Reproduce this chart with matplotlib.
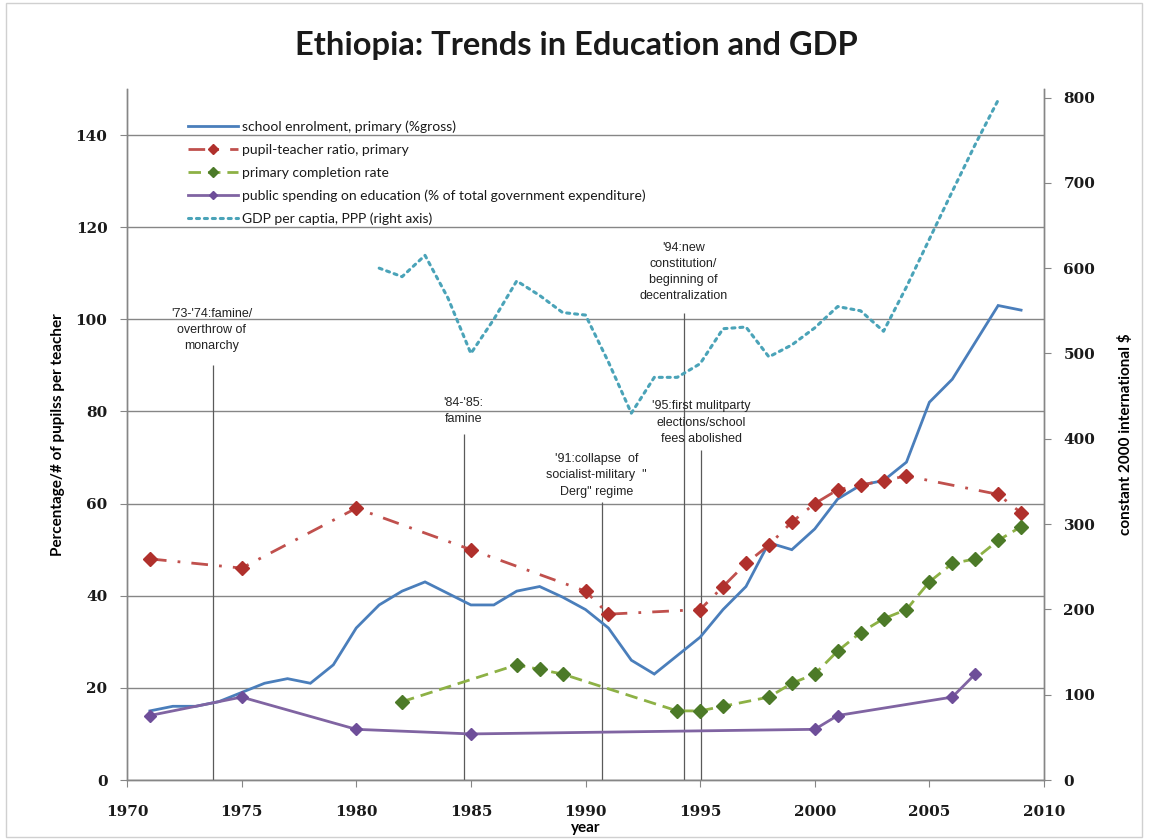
import matplotlib
matplotlib.use("Agg")
import matplotlib.pyplot as plt
from matplotlib.patches import Rectangle

# ---- data -------------------------------------------------------------
enrol_years = list(range(1971, 2010))
enrol_values = [15, 16, 16, 17, 19, 21, 22, 21, 25, 33, 38, 41, 43, 40.5, 38,
                38, 41, 42, 39.7, 37, 33, 26, 23, 27, 31, 37, 42, 51.5, 50,
                54.5, 61, 64, 65, 69, 82, 87, 95, 103, 102]

ptr_years = [1971, 1975, 1980, 1985, 1990, 1991, 1995, 1996, 1997, 1998, 1999,
             2000, 2001, 2002, 2003, 2004, 2008, 2009]
ptr_values = [48, 46, 59, 50, 41, 36, 37, 42, 47, 51, 56, 60, 63, 64, 65, 66,
              62, 58]

compl_years = [1982, 1987, 1988, 1989, 1994, 1995, 1996, 1998, 1999, 2000,
               2001, 2002, 2003, 2004, 2005, 2006, 2007, 2008, 2009]
compl_values = [17, 25, 24, 23, 15, 15, 16, 18, 21, 23, 28, 32, 35, 37, 43,
                47, 48, 52, 55]

spend_years = [1971, 1975, 1980, 1985, 2000, 2001, 2006, 2007]
spend_values = [14, 18, 11, 10, 11, 14, 18, 23]

gdp_years = list(range(1981, 2009))
gdp_values = [600, 590, 615, 565, 500, 540, 585, 568, 548, 545, 490, 430, 472,
              472, 488, 529, 531, 496, 510, 530, 555, 550, 526, 578, 634, 690,
              745, 797]

series_labels = [
    "school enrolment, primary (%gross)",
    "pupil-teacher ratio, primary",
    "primary completion rate",
    "public spending on education (% of total government expenditure)",
    "GDP per captia, PPP (right axis)",
]

# (label, year of the event line, text centre height, top of the line)
events = [
    ("'73-'74:famine/\noverthrow of\nmonarchy", 1973.76, 97.7, 90),
    ("'84-'85:\nfamine", 1984.72, 80.2, 75),
    ("'91:collapse  of\nsocialist-military  \"\nDerg\" regime", 1990.72, 66.1, 60.4),
    ("'94:new\nconstitution/\nbeginning of\ndecentralization", 1994.28, 110.3, 101.3),
    ("'95:first mulitparty\nelections/school\nfees abolished", 1995.02, 77.6, 71.6),
]
event_text_x = [1973.7, 1984.67, 1990.48, 1994.26, 1995.06]

# ---- styling ----------------------------------------------------------
W, H = 1149, 840
AXIS_GREY = "#868686"
TICK_FONT = dict(family="DejaVu Serif", weight="bold", size=11)
LABEL_FONT = ["Lato", "DejaVu Sans"]
NOTE_FONT = ["Liberation Sans Narrow", "Liberation Sans", "DejaVu Sans"]

fig = plt.figure(figsize=(W / 100, H / 100), dpi=100)
fig.patch.set_facecolor("white")

left, right, top, bottom = 127, 1044, 89, 780
ax = fig.add_axes([left / W, 1 - bottom / H, (right - left) / W, (bottom - top) / H])
ax2 = ax.twinx()

# outer chart-area frame
fig.patches.append(Rectangle((6 / W, 3 / H), (1142 - 6) / W, (837 - 3) / H,
                             transform=fig.transFigure, fill=False,
                             edgecolor="#d0d0d0", linewidth=1))

# education series on the left axis
l_enrol, = ax.plot(enrol_years, enrol_values, color="#4A7EBB", lw=2.0,
                   solid_joinstyle="miter", zorder=4)
l_ptr, = ax.plot(ptr_years, ptr_values, color="#C0504D", lw=2.0,
                 linestyle=(0, (6, 4, 1, 4)), marker="D", markersize=7,
                 markerfacecolor="#B0302C", markeredgecolor="#B0302C", zorder=5)
l_compl, = ax.plot(compl_years, compl_values, color="#8DB145", lw=2.0,
                   linestyle=(0, (4.5, 2.5)), marker="D", markersize=7,
                   markerfacecolor="#4C7A28", markeredgecolor="#4C7A28", zorder=5)
l_spend, = ax.plot(spend_years, spend_values, color="#8064A2", lw=2.0,
                   marker="D", markersize=6.5, markerfacecolor="#6E4E99",
                   markeredgecolor="#6E4E99", zorder=5)

# GDP on the right axis
l_gdp, = ax2.plot(gdp_years, gdp_values, color="#4AA3B8", lw=2.2,
                  linestyle=(0, (1, 1.6)), dash_capstyle="round", zorder=4)

# event markers
for (label, x_line, y_text, y_top), x_text in zip(events, event_text_x):
    ax.vlines(x_line, 0, y_top, color="#5a5a5a", lw=0.9, zorder=3)
    ax.text(x_text, y_text, label, ha="center", va="center",
            multialignment="center", fontsize=9, family=NOTE_FONT,
            color="#222222", linespacing=1.45, zorder=6)

# axes ranges and ticks
ax.set_xlim(1970, 2010)
ax.set_xticks(range(1970, 2011, 5))
ax.set_ylim(0, 150)
ax.set_yticks(range(0, 141, 20))
ax2.set_ylim(0, 810)
ax2.set_yticks(range(0, 801, 100))

ax.yaxis.grid(True, color=AXIS_GREY, lw=1.0)
ax.set_axisbelow(True)

for a in (ax, ax2):
    a.spines["top"].set_visible(False)
    for s in ("left", "right", "bottom"):
        a.spines[s].set_color(AXIS_GREY)
        a.spines[s].set_linewidth(1.0)
    a.set_facecolor("none")

ax.tick_params(axis="x", direction="out", length=5, color=AXIS_GREY, pad=13)
ax.tick_params(axis="y", direction="out", length=5, color=AXIS_GREY, pad=9)
ax2.tick_params(axis="y", direction="out", length=5, color=AXIS_GREY, pad=9)
for lbl in ax.get_xticklabels() + ax.get_yticklabels() + ax2.get_yticklabels():
    lbl.set_fontfamily(TICK_FONT["family"])
    lbl.set_fontweight(TICK_FONT["weight"])
    lbl.set_fontsize(TICK_FONT["size"])
    lbl.set_color("#1a1a1a")

ax.set_xlabel("year", family=LABEL_FONT, weight="bold", fontsize=11, labelpad=1.5)
ax.set_ylabel("Percentage/# of pupilss per teacher", family=LABEL_FONT,
              weight="bold", fontsize=11, labelpad=8)
ax2.set_ylabel("constant 2000 international $", family=LABEL_FONT,
               weight="bold", fontsize=11, labelpad=16)

# legend without frame or background
leg = ax2.legend([l_enrol, l_ptr, l_compl, l_spend, l_gdp], series_labels,
                 loc="upper left", bbox_to_anchor=(0.060, 0.962),
                 frameon=False, prop={"family": LABEL_FONT, "size": 10},
                 handlelength=3.6, handletextpad=0.35, labelspacing=0.77,
                 numpoints=1, markerscale=0.7, borderaxespad=0)
for t in leg.get_texts():
    t.set_color("#1a1a1a")

fig.text(576 / W, 1 - 45 / H, "Ethiopia: Trends in Education and GDP",
         ha="center", va="center", family=LABEL_FONT, weight="bold",
         fontsize=23.5, color="#1a1a1a")

fig.savefig("out.png", dpi=100, facecolor="white")
